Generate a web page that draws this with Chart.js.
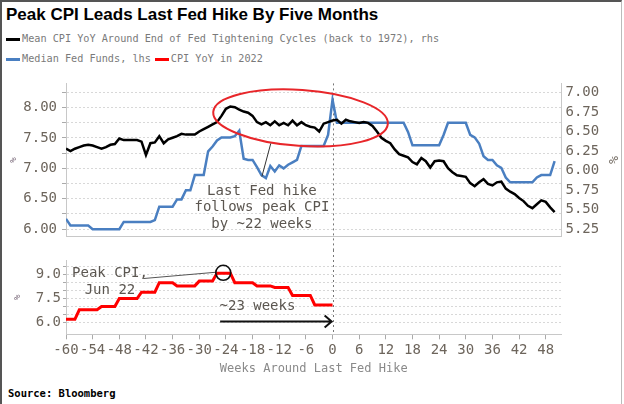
<!DOCTYPE html>
<html>
<head>
<meta charset="utf-8">
<script src="https://cdn.jsdelivr.net/npm/chart.js@4.4.1/dist/chart.umd.min.js"></script>
<style>
  html, body { margin: 0; padding: 0; background: #fff; }
  #page { position: relative; width: 624px; height: 404px; overflow: hidden; font-family: "DejaVu Sans Mono", monospace; }
  #frame { position: absolute; left: 0; top: 0; height: 404px; border-left: 2px solid #555; border-top: 2px solid #555; border-right: 1px solid #bbb; box-sizing: border-box; width: 622px; }
  #title { position: absolute; left: 6px; top: 5px; font: bold 17px "Liberation Sans", Arial, sans-serif; line-height: 20px; color: #000; white-space: nowrap; }
  .legRow { position: absolute; left: 6px; height: 12px; line-height: 12px; font-size: 10.2px; color: #7a7a7a; white-space: nowrap; display: flex; align-items: center; }
  .legRow i { display: inline-block; width: 14px; height: 3px; margin-right: 2px; }
  .legRow span { margin-right: 4px; }
  #topBox { position: absolute; left: 0; top: 70px; width: 624px; height: 180px; }
  #botBox { position: absolute; left: 0; top: 250px; width: 624px; height: 130px; }
  #source { position: absolute; left: 8px; top: 387px; font-weight: bold; font-size: 10.5px; line-height: 12px; color: #000; }
</style>
</head>
<body>
<div id="page">
  <div id="frame"></div>
  <div id="title">Peak CPI Leads Last Fed Hike By Five Months</div>
  <div class="legRow" id="leg1" style="top:33px"></div>
  <div class="legRow" id="leg2" style="top:53px"></div>
  <div id="topBox"><canvas id="topChart"></canvas></div>
  <div id="botBox"><canvas id="botChart"></canvas></div>
  <div id="source">Source: Bloomberg</div>
</div>
<script>
// weeks around the last Fed hike
const weeks = [-60,-59,-58,-57,-56,-55,-54,-53,-52,-51,-50,-49,-48,-47,-46,-45,-44,-43,-42,-41,
  -40,-39,-38,-37,-36,-35,-34,-33,-32,-31,-30,-29,-28,-27,-26,-25,-24,-23,-22,-21,
  -20,-19,-18,-17,-16,-15,-14,-13,-12,-11,-10,-9,-8,-7,-6,-5,-4,-3,-2,-1,
  0,1,2,3,4,5,6,7,8,9,10,11,12,13,14,15,16,17,18,19,
  20,21,22,23,24,25,26,27,28,29,30,31,32,33,34,35,36,37,38,39,
  40,41,42,43,44,45,46,47,48,49,50];

// Mean CPI YoY around end of tightening cycles (rhs)
const meanCpi = [6.28,6.25,6.28,6.30,6.32,6.33,6.32,6.30,6.28,6.30,6.33,6.34,6.41,6.39,6.39,6.39,6.39,6.37,6.20,6.35,
  6.36,6.44,6.35,6.40,6.42,6.44,6.47,6.46,6.46,6.46,6.50,6.53,6.56,6.59,6.62,6.70,6.79,6.82,6.81,6.78,
  6.755,6.74,6.70,6.62,6.59,6.62,6.58,6.63,6.58,6.61,6.58,6.64,6.58,6.62,6.58,6.56,6.55,6.50,6.60,6.62,
  6.64,6.65,6.60,6.65,6.63,6.62,6.61,6.62,6.61,6.57,6.50,6.42,6.38,6.35,6.27,6.21,6.19,6.17,6.11,6.08,
  6.16,6.12,6.04,6.12,6.13,6.12,6.03,5.98,5.94,5.93,5.92,5.84,5.80,5.85,5.89,5.83,5.81,5.85,5.86,5.77,
  5.73,5.70,5.65,5.61,5.55,5.52,5.57,5.62,5.60,5.53,5.47];

// Median Fed funds (lhs)
const fedFunds = [6.17,6.06,6.06,6.06,6.06,6.06,6.00,6.00,6.00,6.00,6.00,6.00,6.00,6.12,6.12,6.12,6.12,6.12,6.12,6.12,
  6.15,6.37,6.37,6.37,6.37,6.49,6.49,6.64,6.64,6.89,6.89,6.89,7.28,7.36,7.46,7.51,7.51,7.51,7.53,7.62,
  7.16,7.14,7.14,7.02,6.89,6.84,7.04,6.95,7.05,7.00,7.06,7.10,7.14,7.37,7.37,7.37,7.37,7.37,7.37,7.55,
  8.13,7.75,7.75,7.75,7.75,7.75,7.75,7.75,7.75,7.75,7.75,7.75,7.75,7.75,7.75,7.75,7.75,7.60,7.38,7.38,
  7.38,7.38,7.38,7.38,7.38,7.55,7.75,7.75,7.75,7.75,7.75,7.55,7.51,7.41,7.20,7.14,7.14,7.05,7.01,6.85,
  6.77,6.77,6.77,6.77,6.77,6.77,6.85,6.89,6.89,6.89,7.12];

// CPI YoY in 2022, weeks -60..0
const cpi2022 = [6.2,6.2,6.2,6.8,6.8,6.8,6.8,6.8,7.0,7.0,7.0,7.0,7.5,7.5,7.5,7.5,7.5,7.9,7.9,7.9,
  7.9,8.5,8.5,8.5,8.5,8.3,8.3,8.3,8.3,8.3,8.6,8.6,8.6,8.6,9.1,9.1,9.1,9.1,8.5,8.5,
  8.5,8.5,8.5,8.3,8.3,8.3,8.3,8.2,8.2,8.2,8.2,7.7,7.7,7.7,7.7,7.7,7.1,7.1,7.1,7.1,7.1];

const seriesNames = ["Mean CPI YoY Around End of Fed Tightening Cycles (back to 1972), rhs",
  "Median Fed Funds, lhs", "CPI YoY in 2022"];
const seriesColors = ["#000000", "#4a7fc1", "#ff0000"];

const weekTicks = [-60,-54,-48,-42,-36,-30,-24,-18,-12,-6,0,6,12,18,24,30,36,42,48];
const fedTicks = [6.00,6.25,6.50,6.75,7.00,7.25,7.50,7.75,8.00,8.25];
const fedLabels = [6.00,6.50,7.00,7.50,8.00];
const cpiMeanTicks = [5.25,5.50,5.75,6.00,6.25,6.50,6.75,7.00];
const cpi22Ticks = [6.0,6.5,7.0,7.5,8.0,8.5,9.0,9.5];
const cpi22Labels = [6.0,7.5,9.0];

const xMin = -60, xMax = 51.55;
const tickFont = { family: "DejaVu Sans Mono", size: 14 };
const tickColor = "#6d655c";
const noteColor = "#5b5650";

function pair(xs, ys) { return ys.map((v, i) => ({ x: xs[i], y: v })); }
function has(list, v) { return list.some(t => Math.abs(t - v) < 1e-6); }

// legend
function legItem(i) { return '<i style="background:' + seriesColors[i] + '"></i><span>' + seriesNames[i] + '</span>'; }
document.getElementById("leg1").innerHTML = legItem(0);
document.getElementById("leg2").innerHTML = legItem(1) + legItem(2);

// dotted line at the last hike
const zeroLine = {
  id: "zeroLine",
  beforeDatasetsDraw(chart, args, opts) {
    const { ctx, chartArea } = chart;
    const x = Math.round(chart.scales.x.getPixelForValue(0)) + 0.5;
    ctx.save();
    ctx.strokeStyle = "#777";
    ctx.lineWidth = 1;
    ctx.setLineDash([2, 3]);
    ctx.beginPath();
    ctx.moveTo(x, opts.fromTop ? 0 : chartArea.top);
    ctx.lineTo(x, opts.toBottom ? chart.height : chartArea.bottom);
    ctx.stroke();
    ctx.restore();
  }
};

const topNote = { week: -7.2, value: 7.83, halfWeeks: 19.7, halfValue: 0.46, tilt: 0.068,
  pointer: [[-15.9, 6.865], [-13.9, 7.41]],
  lines: [["Last Fed hike", 6.628], ["follows peak CPI", 6.36], ["by ~22 weeks", 6.08]], textWeek: -15.9 };

const topNotes = {
  id: "topNotes",
  afterDatasetsDraw(chart) {
    const { ctx } = chart;
    const x = chart.scales.x, y = chart.scales.yL;
    ctx.save();
    const cx = x.getPixelForValue(topNote.week), cy = y.getPixelForValue(topNote.value);
    const rx = x.getPixelForValue(topNote.week + topNote.halfWeeks) - cx;
    const ry = y.getPixelForValue(topNote.value - topNote.halfValue) - cy;
    ctx.strokeStyle = "#e8262a";
    ctx.lineWidth = 2;
    ctx.beginPath();
    ctx.ellipse(cx, cy, rx, ry, topNote.tilt, 0, Math.PI * 2);
    ctx.stroke();
    ctx.strokeStyle = "#333";
    ctx.lineWidth = 1;
    ctx.beginPath();
    ctx.moveTo(x.getPixelForValue(topNote.pointer[0][0]), y.getPixelForValue(topNote.pointer[0][1]));
    ctx.lineTo(x.getPixelForValue(topNote.pointer[1][0]), y.getPixelForValue(topNote.pointer[1][1]));
    ctx.stroke();
    ctx.fillStyle = noteColor;
    ctx.font = '14px "DejaVu Sans Mono"';
    ctx.textAlign = "center";
    ctx.textBaseline = "middle";
    topNote.lines.forEach(l => ctx.fillText(l[0], x.getPixelForValue(topNote.textWeek), y.getPixelForValue(l[1])));
    ctx.restore();
  }
};

const botNote = { peakWeek: -24.6, peakValue: 9.12, radius: 7.5,
  pointer: [[-42.6, 8.76], [-26.1, 9.16]],
  labelWeek: -50.1, label: [["Peak CPI,", 9.06], ["Jun 22", 8.04]],
  gapText: "~23 weeks", gapWeek: -16.9, gapValue: 7.02,
  arrowFrom: -25.3, arrowTo: -0.2, arrowValue: 6.06 };

const botNotes = {
  id: "botNotes",
  afterDatasetsDraw(chart) {
    const { ctx } = chart;
    const x = chart.scales.x, y = chart.scales.yB;
    ctx.save();
    ctx.strokeStyle = "#555";
    ctx.lineWidth = 1;
    ctx.beginPath();
    ctx.moveTo(x.getPixelForValue(botNote.pointer[0][0]), y.getPixelForValue(botNote.pointer[0][1]));
    ctx.lineTo(x.getPixelForValue(botNote.pointer[1][0]), y.getPixelForValue(botNote.pointer[1][1]));
    ctx.stroke();
    ctx.strokeStyle = "#111";
    ctx.lineWidth = 1.6;
    ctx.beginPath();
    ctx.arc(x.getPixelForValue(botNote.peakWeek), y.getPixelForValue(botNote.peakValue), botNote.radius, 0, Math.PI * 2);
    ctx.stroke();
    // arrow
    const ay = y.getPixelForValue(botNote.arrowValue);
    const ax1 = x.getPixelForValue(botNote.arrowFrom), ax2 = x.getPixelForValue(botNote.arrowTo);
    ctx.lineWidth = 2;
    ctx.beginPath();
    ctx.moveTo(ax1, ay); ctx.lineTo(ax2, ay);
    ctx.moveTo(ax2 - 7, ay - 6); ctx.lineTo(ax2, ay); ctx.lineTo(ax2 - 7, ay + 6);
    ctx.stroke();
    ctx.fillStyle = noteColor;
    ctx.font = '14px "DejaVu Sans Mono"';
    ctx.textAlign = "center";
    ctx.textBaseline = "middle";
    botNote.label.forEach(l => ctx.fillText(l[0], x.getPixelForValue(botNote.labelWeek), y.getPixelForValue(l[1])));
    ctx.fillText(botNote.gapText, x.getPixelForValue(botNote.gapWeek), y.getPixelForValue(botNote.gapValue));
    ctx.restore();
  }
};

new Chart(document.getElementById("topChart"), {
  type: "line",
  data: {
    datasets: [
      { label: seriesNames[0], data: pair(weeks, meanCpi), yAxisID: "yR", borderColor: seriesColors[0],
        borderWidth: 2.5, pointRadius: 0, tension: 0 },
      { label: seriesNames[1], data: pair(weeks, fedFunds), yAxisID: "yL", borderColor: seriesColors[1],
        borderWidth: 2.5, pointRadius: 0, tension: 0 }
    ]
  },
  options: {
    responsive: true, maintainAspectRatio: false, animation: false,
    layout: { padding: { top: 6, bottom: 3.5, left: 0, right: 0 } },
    plugins: { legend: { display: false }, tooltip: { enabled: false }, zeroLine: { toBottom: true } },
    scales: {
      x: { type: "linear", min: xMin, max: xMax, ticks: { display: false },
        grid: { display: false }, border: { display: true, color: "#c8c8c8" },
        afterFit: s => { s.height = 0; } },
      yL: { position: "left", min: 5.878, max: 8.398,
        afterBuildTicks: s => { s.ticks = fedTicks.map(v => ({ value: v })); },
        ticks: { autoSkip: false, callback: v => has(fedLabels, v) ? v.toFixed(2) : "", font: tickFont, color: tickColor, padding: 5 },
        grid: { color: "#d8d8d8", tickColor: "#aaa", tickLength: 4 },
        border: { color: "#c8c8c8", dash: [2, 2] },
        title: { display: true, text: "%", font: { family: "DejaVu Sans Mono", size: 9 }, color: "#7a6a7a", padding: { top: 8, bottom: 0 } },
        afterFit: s => { s.width = 66; } },
      yR: { position: "right", min: 5.156, max: 7.115,
        afterBuildTicks: s => { s.ticks = cpiMeanTicks.map(v => ({ value: v })); },
        ticks: { autoSkip: false, callback: v => v.toFixed(2), font: tickFont, color: tickColor, padding: 4 },
        grid: { drawOnChartArea: false, drawTicks: false },
        border: { color: "#c8c8c8" },
        title: { display: true, text: "%", font: { family: "DejaVu Sans Mono", size: 13 }, color: tickColor, padding: { top: 4, bottom: 0 } },
        afterFit: s => { s.width = 62.5; } }
    }
  },
  plugins: [zeroLine, topNotes]
});

new Chart(document.getElementById("botChart"), {
  type: "line",
  data: {
    datasets: [
      { label: seriesNames[2], data: pair(weeks, cpi2022), yAxisID: "yB", borderColor: seriesColors[2],
        borderWidth: 3, pointRadius: 0, tension: 0 }
    ]
  },
  options: {
    responsive: true, maintainAspectRatio: false, animation: false,
    layout: { padding: { top: 7, bottom: 0, left: 0, right: 62.5 } },
    plugins: { legend: { display: false }, tooltip: { enabled: false }, zeroLine: { fromTop: true } },
    scales: {
      x: { type: "linear", min: xMin, max: xMax,
        afterBuildTicks: s => { s.ticks = weekTicks.map(v => ({ value: v })); },
        ticks: { autoSkip: false, maxRotation: 0, minRotation: 0, padding: 3, font: tickFont, color: tickColor,
          callback: v => String(v) },
        grid: { drawOnChartArea: false, tickLength: 5, tickColor: "#aaa" },
        border: { color: "#c8c8c8" },
        title: { display: true, text: "Weeks Around Last Fed Hike", font: { family: "DejaVu Sans Mono", size: 12 },
          color: "#8a8a8a", padding: { top: 0, bottom: 4 } },
        afterFit: s => { s.height = 45.7; } },
      yB: { position: "left", min: 5.26, max: 9.9,
        afterBuildTicks: s => { s.ticks = cpi22Ticks.map(v => ({ value: v })); },
        ticks: { autoSkip: false, callback: v => has(cpi22Labels, v) ? v.toFixed(1) : "", font: tickFont, color: tickColor, padding: 2 },
        grid: { color: "#d8d8d8", tickColor: "#aaa", tickLength: 3 },
        border: { color: "#c8c8c8", dash: [2, 2] },
        title: { display: true, text: "%", font: { family: "DejaVu Sans Mono", size: 9 }, color: "#7a6a7a", padding: { top: 12, bottom: 0 } },
        afterFit: s => { s.width = 66; } }
    }
  },
  plugins: [zeroLine, botNotes]
});
</script>
</body>
</html>
